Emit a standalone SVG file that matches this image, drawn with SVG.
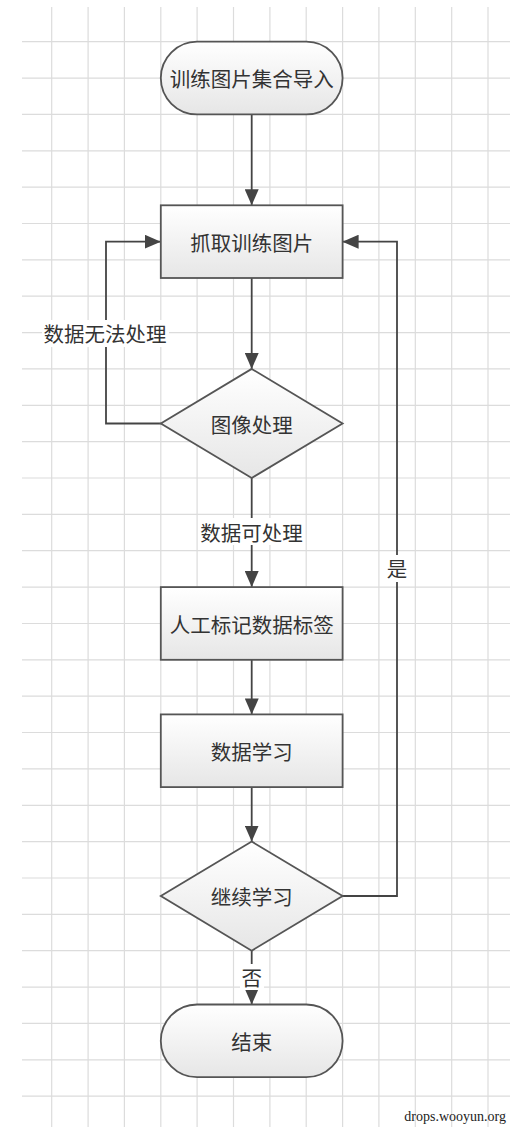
<svg xmlns="http://www.w3.org/2000/svg" width="510" height="1136" viewBox="0 0 510 1136">
<defs>
<linearGradient id="nodeFill" x1="0" y1="0" x2="0" y2="1">
<stop offset="0" stop-color="#ffffff"/>
<stop offset="1" stop-color="#e6e6e6"/>
</linearGradient>
<marker id="arrow" viewBox="0 0 16 14" refX="16" refY="7" markerWidth="16" markerHeight="14" markerUnits="userSpaceOnUse" orient="auto">
<path d="M0,0 L16,7 L0,14 Z" fill="#444"/>
</marker>
<style>
.grid{stroke:#dcdcdc;stroke-width:1.2;fill:none}
.node{fill:url(#nodeFill);stroke:#555;stroke-width:1.8}
.edge{fill:none;stroke:#444;stroke-width:1.8}
.t{font-family:"Noto Sans CJK SC","Microsoft YaHei",sans-serif;font-size:20.5px;fill:#333;text-anchor:middle;dominant-baseline:central}
.lblbg{fill:#ffffff}
.wm{font-family:"Liberation Serif",serif;font-size:14px;fill:#222;text-anchor:end}
</style>
</defs>
<rect width="510" height="1136" fill="#ffffff"/>
<g id="grid">
<path class="grid" d="M51.7,7V1127 M88.1,7V1127 M124.4,7V1127 M160.8,7V1127 M197.1,7V1127 M233.5,7V1127 M269.9,7V1127 M306.2,7V1127 M342.6,7V1127 M378.9,7V1127 M415.3,7V1127 M451.7,7V1127 M488,7V1127"/>
<path class="grid" d="M22,41.7H510 M22,78.1H510 M22,114.4H510 M22,150.8H510 M22,187.1H510 M22,223.5H510 M22,259.9H510 M22,296.2H510 M22,332.6H510 M22,368.9H510 M22,405.3H510 M22,441.7H510 M22,478H510 M22,514.4H510 M22,550.7H510 M22,587.1H510 M22,623.5H510 M22,659.8H510 M22,696.2H510 M22,732.5H510 M22,768.9H510 M22,805.3H510 M22,841.6H510 M22,878H510 M22,914.3H510 M22,950.7H510 M22,987.1H510 M22,1023.4H510 M22,1059.8H510 M22,1096.1H510"/>
</g>
<g id="connectors">
<path class="edge" d="M251.7,114.4V205.3" marker-end="url(#arrow)"/>
<path class="edge" d="M251.7,278V368.9" marker-end="url(#arrow)"/>
<path class="edge" d="M251.7,478V587.1" marker-end="url(#arrow)"/>
<path class="edge" d="M251.7,659.8V714.4" marker-end="url(#arrow)"/>
<path class="edge" d="M251.7,787V841.6" marker-end="url(#arrow)"/>
<path class="edge" d="M251.7,950.7V1004.5" marker-end="url(#arrow)"/>
<path class="edge" d="M160.8,423.5H106V241.7H160.8" marker-end="url(#arrow)"/>
<path class="edge" d="M342.6,896H397V241.7H342.6" marker-end="url(#arrow)"/>
<g id="edge-labels">
<rect class="lblbg" x="42" y="320" width="127" height="27"/>
<text class="t" x="105" y="333">数据无法处理</text>
<rect class="lblbg" x="198" y="518" width="106" height="27"/>
<text class="t" x="251.5" y="531.5">数据可处理</text>
<rect class="lblbg" x="385" y="555" width="24" height="27"/>
<text class="t" x="397" y="568">是</text>
<rect class="lblbg" x="240" y="964" width="24" height="26"/>
<text class="t" x="251.7" y="977">否</text>
</g>
</g>
<g id="n-start">
<rect class="node" x="160.8" y="41.7" width="181.8" height="72.7" rx="36.3" ry="36.3"/>
<text class="t" x="251.7" y="78">训练图片集合导入</text>
</g>
<g id="n-grab">
<rect class="node" x="160.8" y="205.3" width="181.8" height="72.7"/>
<text class="t" x="251.7" y="241.7">抓取训练图片</text>
</g>
<g id="n-process">
<polygon class="node" points="251.7,368.9 342.6,423.5 251.7,478 160.8,423.5"/>
<text class="t" x="251.7" y="423.5">图像处理</text>
</g>
<g id="n-label">
<rect class="node" x="160.8" y="587.1" width="181.8" height="72.7"/>
<text class="t" x="251.7" y="623.5">人工标记数据标签</text>
</g>
<g id="n-learn">
<rect class="node" x="160.8" y="714.4" width="181.8" height="72.7"/>
<text class="t" x="251.7" y="750.7">数据学习</text>
</g>
<g id="n-continue">
<polygon class="node" points="251.7,841.6 342.6,896 251.7,950.7 160.8,896"/>
<text class="t" x="251.7" y="896">继续学习</text>
</g>
<g id="n-end">
<rect class="node" x="160.8" y="1004.5" width="181.8" height="72.7" rx="36.3" ry="36.3"/>
<text class="t" x="251.7" y="1040.8">结束</text>
</g>
<text class="wm" x="506" y="1121">drops.wooyun.org</text>
</svg>
